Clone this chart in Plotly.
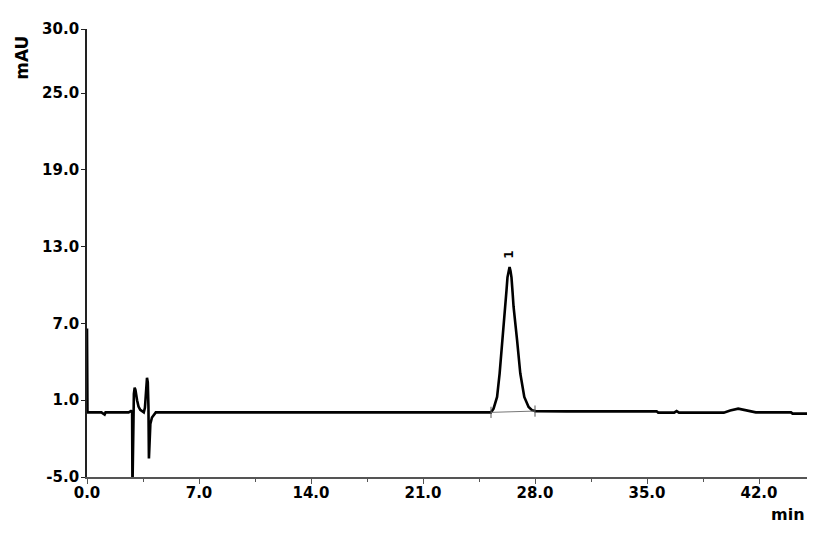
import plotly.graph_objects as go

# Chromatogram signal (time in min, absorbance in mAU)
time_min = [0.0, 0.03, 0.9, 1.05, 1.1, 1.16, 2.6, 2.75, 2.82, 2.84, 2.88, 2.93, 2.98,
            3.03, 3.13, 3.22, 3.33, 3.45, 3.55, 3.62, 3.69, 3.75, 3.8, 3.84, 3.87,
            3.9, 3.96, 4.06, 4.17, 4.3, 12.0, 20.0, 25.0, 25.25, 25.41, 25.63, 25.79,
            25.98, 26.14, 26.22, 26.28, 26.34, 26.41, 26.47, 26.53, 26.6, 26.66,
            26.88, 27.08, 27.33, 27.6, 27.81, 28.02, 30.0, 35.6, 35.7, 36.7, 36.85,
            37.0, 39.8, 40.2, 40.7, 41.2, 41.8, 44.0, 44.1, 45.0]
signal_mau = [6.6, 0.05, 0.05, -0.12, -0.12, 0.05, 0.05, 0.15, 0.1, -6.0, 0.3, 1.5, 1.97,
              1.8, 1.0, 0.5, 0.25, 0.1, 0.05, 0.4, 1.8, 2.75, 2.4, 0.5, -3.55,
              -2.5, -0.85, -0.35, -0.15, 0.05, 0.05, 0.05, 0.05, 0.05, 0.34, 1.25, 3.1,
              5.7, 8.3, 9.6, 10.6, 11.1, 11.4, 11.1, 10.6, 9.4, 8.3,
              5.7, 3.1, 1.25, 0.47, 0.22, 0.15, 0.13, 0.13, 0.03, 0.03, 0.15,
              0.03, 0.03, 0.2, 0.34, 0.2, 0.05, 0.05, -0.05, -0.05]

# Integration baseline of peak 1
base_time = [25.25, 28.0]
base_mau = [0.05, 0.15]

# Peak label
peak_name = "1"
peak_time = 26.41
peak_height = 11.4

# Axis ticks
x_ticks = [0.0, 7.0, 14.0, 21.0, 28.0, 35.0, 42.0]
x_minor = [3.5, 10.5, 17.5, 24.5, 31.5, 38.5]
y_ticks = [-5.0, 1.0, 7.0, 13.0, 19.0, 25.0, 30.0]

FONT = "DejaVu Sans"

fig = go.Figure()
fig.add_trace(go.Scatter(x=time_min, y=signal_mau, mode="lines",
                         line=dict(color="#000000", width=2.6), showlegend=False,
                         hoverinfo="skip"))
fig.add_trace(go.Scatter(x=base_time, y=base_mau, mode="lines+markers",
                         line=dict(color="#777777", width=1),
                         marker=dict(symbol="line-ns", size=8,
                                     line=dict(color="#555555", width=1)),
                         showlegend=False, hoverinfo="skip"))

fig.add_annotation(x=peak_time, y=peak_height, text="<b>" + peak_name + "</b>", showarrow=False,
                   textangle=-90, yshift=12, font=dict(family=FONT, size=12, color="#000"))

fig.update_xaxes(range=[0, 45], tickvals=x_ticks,
                 ticktext=[f"<b>{v:.1f}</b>" for v in x_ticks],
                 showgrid=False, zeroline=False, showline=True, linecolor="#555555",
                 linewidth=1.5, ticks="outside", ticklen=5, tickwidth=1.2, tickcolor="#555555",
                 ticklabelstandoff=-4,
                 tickfont=dict(family=FONT, size=15, color="#000"),
                 minor=dict(tickvals=x_minor, ticks="outside", ticklen=3,
                            tickcolor="#555555", tickwidth=1))
fig.update_yaxes(range=[-5, 30], tickvals=y_ticks,
                 ticktext=[f"<b>{v:.1f}</b>" for v in y_ticks],
                 showgrid=False, zeroline=False, showline=True, linecolor="#222222",
                 linewidth=1.8, ticks="outside", ticklen=4, tickwidth=1.2, tickcolor="#222222",
                 ticklabelstandoff=-1,
                 tickfont=dict(family=FONT, size=15, color="#000"))

fig.add_annotation(xref="paper", yref="paper", x=-0.0903, y=0.9356, text="<b>mAU</b>",
                   textangle=-90, showarrow=False, xanchor="center", yanchor="middle",
                   font=dict(family=FONT, size=17, color="#000"))
fig.add_annotation(xref="paper", yref="paper", x=1.0, y=-0.084, xanchor="right",
                   yanchor="middle", text="<b>min</b>", showarrow=False,
                   font=dict(family=FONT, size=16, color="#000"))

fig.update_layout(width=837, height=534, margin=dict(l=79, r=38, t=19, b=65),
                  paper_bgcolor="white", plot_bgcolor="white")

fig.write_html("out.html")
